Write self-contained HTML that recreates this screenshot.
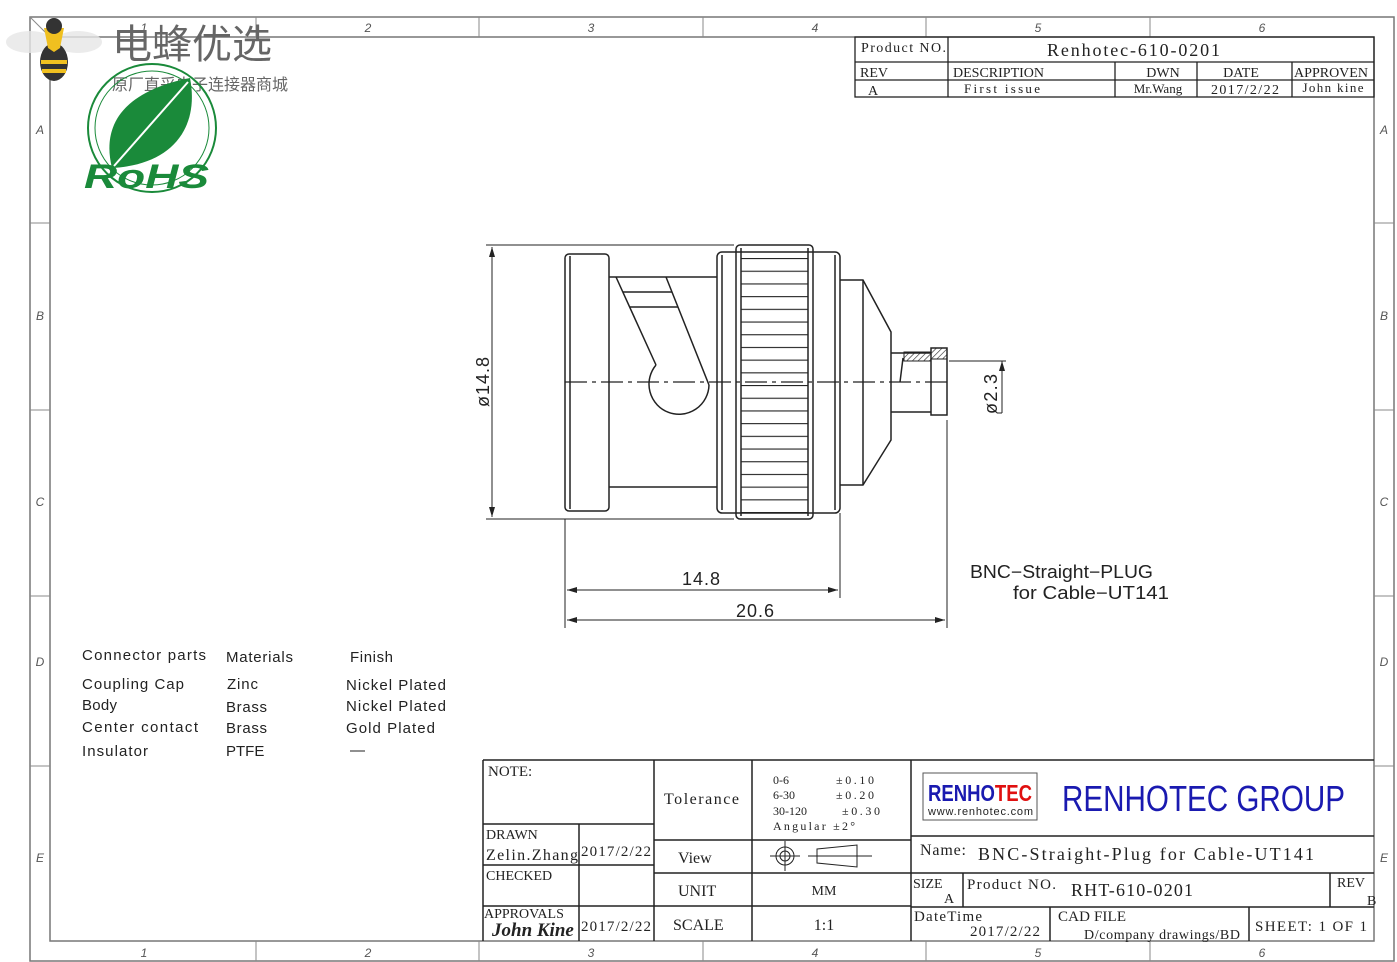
<!DOCTYPE html>
<html><head><meta charset="utf-8"><style>
html,body{margin:0;padding:0;background:#fff}
svg{display:block}
.m{font-family:"Liberation Serif","Noto Serif CJK SC",serif;fill:#222}
.s{font-family:"Liberation Sans","Noto Sans CJK SC",sans-serif;fill:#222}
.z{font-family:"Liberation Sans",sans-serif;fill:#555;font-size:12px;font-style:italic}
</style></head><body>
<svg width="1397" height="962" viewBox="0 0 1397 962" xmlns="http://www.w3.org/2000/svg">
<defs>
<pattern id="kn" x="0" y="258" width="10" height="12.7" patternUnits="userSpaceOnUse">
<line x1="0" y1="0.5" x2="10" y2="0.5" stroke="#222" stroke-width="1.2"/>
</pattern>
<pattern id="hatch" width="4" height="4" patternUnits="userSpaceOnUse" patternTransform="rotate(45)">
<line x1="0" y1="0" x2="0" y2="4" stroke="#222" stroke-width="1.2"/>
</pattern>
</defs>
<g fill="none" stroke="#777" stroke-width="1.5">
<rect x="30" y="17" width="1364" height="944"/>
<rect x="50" y="37" width="1324" height="904"/>
</g>
<g stroke="#888" stroke-width="1">
<line x1="256" y1="17" x2="256" y2="37"/><line x1="479" y1="17" x2="479" y2="37"/><line x1="703" y1="17" x2="703" y2="37"/><line x1="926" y1="17" x2="926" y2="37"/><line x1="1150" y1="17" x2="1150" y2="37"/>
<line x1="256" y1="941" x2="256" y2="961"/><line x1="479" y1="941" x2="479" y2="961"/><line x1="703" y1="941" x2="703" y2="961"/><line x1="926" y1="941" x2="926" y2="961"/><line x1="1150" y1="941" x2="1150" y2="961"/>
<line x1="30" y1="223" x2="50" y2="223"/><line x1="30" y1="410" x2="50" y2="410"/><line x1="30" y1="596" x2="50" y2="596"/><line x1="30" y1="766" x2="50" y2="766"/>
<line x1="1374" y1="223" x2="1394" y2="223"/><line x1="1374" y1="410" x2="1394" y2="410"/><line x1="1374" y1="596" x2="1394" y2="596"/><line x1="1374" y1="766" x2="1394" y2="766"/>
<line x1="30" y1="17" x2="50" y2="37"/>
</g>
<g class="z" text-anchor="middle">
<text x="144" y="32">1</text><text x="368" y="32">2</text><text x="591" y="32">3</text><text x="815" y="32">4</text><text x="1038" y="32">5</text><text x="1262" y="32">6</text>
<text x="144" y="957">1</text><text x="368" y="957">2</text><text x="591" y="957">3</text><text x="815" y="957">4</text><text x="1038" y="957">5</text><text x="1262" y="957">6</text>
<text x="40" y="134">A</text><text x="40" y="320">B</text><text x="40" y="506">C</text><text x="40" y="666">D</text><text x="40" y="862">E</text>
<text x="1384" y="134">A</text><text x="1384" y="320">B</text><text x="1384" y="506">C</text><text x="1384" y="666">D</text><text x="1384" y="862">E</text>
</g>

<g>
<ellipse cx="30" cy="42" rx="24" ry="11" fill="#e6e6e6" opacity="0.8"/>
<ellipse cx="78" cy="42" rx="24" ry="11" fill="#e6e6e6" opacity="0.8"/>
<ellipse cx="54" cy="62" rx="14" ry="19" fill="#333"/>
<rect x="41" y="60" width="26" height="4" fill="#f0c020"/><rect x="42" y="69" width="24" height="4" fill="#f0c020"/>
<path d="M44 28 L64 28 L60 48 L54 52 L48 48 Z" fill="#f0c020"/>
<circle cx="54" cy="26" r="8" fill="#333"/>
</g>
<text x="112" y="58" font-family="'Noto Sans CJK SC',sans-serif" font-size="40" fill="#666">电蜂优选</text>
<text x="112" y="90" font-family="'Noto Sans CJK SC',sans-serif" font-size="16" fill="#666">原厂直采电子连接器商城</text>
<g fill="none" stroke="#1a8a3a">
<circle cx="152" cy="128" r="64" stroke-width="2"/>
<circle cx="152" cy="128" r="57" stroke-width="1"/>
</g>
<path d="M112 168 C100 120 130 90 190 78 C200 130 170 165 112 168 Z" fill="#1a8a3a"/>
<path d="M114 166 L188 82" stroke="#fff" stroke-width="2"/>
<text x="84" y="188" font-family="'Liberation Sans',sans-serif" font-weight="bold" font-style="italic" font-size="34" fill="#1a8a3a" textLength="125" lengthAdjust="spacingAndGlyphs">RoHS</text>

<g fill="none" stroke="#222" stroke-width="1.5">
<rect x="565" y="254" width="44" height="257" rx="4"/>
<line x1="570" y1="256" x2="570" y2="509"/>
<line x1="609" y1="277" x2="717" y2="277"/><line x1="609" y1="487" x2="717" y2="487"/>
<line x1="616" y1="277" x2="656" y2="365"/><line x1="666" y1="277" x2="709" y2="385"/>
<line x1="623" y1="292" x2="672" y2="292"/><line x1="630" y1="307" x2="678" y2="307"/>
<path d="M656 365 A30 30 0 1 0 709 385"/>
<rect x="717" y="252" width="123" height="261" rx="5"/>
<line x1="722" y1="255" x2="722" y2="510"/><line x1="835" y1="255" x2="835" y2="510"/>
<rect x="736" y="245" width="77" height="274" rx="4"/>
<line x1="741" y1="248" x2="741" y2="516"/><line x1="808" y1="248" x2="808" y2="516"/>
<polyline points="840,280 863,280 891,332 891,440 863,485 840,485"/>
<line x1="863" y1="280" x2="863" y2="485"/>
<polyline points="891,353 931,353"/><polyline points="891,412 931,412"/>
<rect x="931" y="348" width="16" height="67"/>
<line x1="903" y1="358" x2="900" y2="382"/>
</g>
<rect x="904" y="352" width="27" height="9" fill="url(#hatch)" stroke="#222"/>
<rect x="931" y="348" width="16" height="11" fill="url(#hatch)" stroke="#222"/>
<rect x="741" y="248" width="67" height="268" fill="url(#kn)"/>
<line x1="565" y1="382" x2="947" y2="382" stroke="#222" stroke-width="1.2" stroke-dasharray="22,5,4,5"/>
<g stroke="#222" stroke-width="1" fill="none">
<line x1="486" y1="245" x2="734" y2="245"/><line x1="486" y1="519" x2="734" y2="519"/>
<line x1="492" y1="247" x2="492" y2="517"/>
<line x1="565" y1="519" x2="565" y2="628"/><line x1="840" y1="513" x2="840" y2="598"/><line x1="947" y1="420" x2="947" y2="628"/>
<line x1="567" y1="590" x2="838" y2="590"/><line x1="567" y1="620" x2="945" y2="620"/>
<line x1="949" y1="361" x2="1006" y2="361"/><line x1="1002" y1="361" x2="1002" y2="413"/><line x1="997" y1="413" x2="1002" y2="413"/>
</g>
<g fill="#222">
<path d="M492 247 l-3 10 h6z"/><path d="M492 517 l-3 -10 h6z"/>
<path d="M567 590 l10 -3 v6z"/><path d="M838 590 l-10 -3 v6z"/>
<path d="M567 620 l10 -3 v6z"/><path d="M945 620 l-10 -3 v6z"/>
<path d="M1002 361 l-3 10 h6z"/>
</g>
<text class="s" font-size="18" transform="translate(489,382) rotate(-90)" text-anchor="middle" textLength="50">ø14.8</text>
<text class="s" font-size="18" transform="translate(997,394) rotate(-90)" text-anchor="middle" textLength="40">ø2.3</text>
<text class="s" font-size="18" x="701" y="585" text-anchor="middle" textLength="38">14.8</text>
<text class="s" font-size="18" x="755" y="617" text-anchor="middle" textLength="38">20.6</text>
<text class="s" font-size="18" x="970" y="578" textLength="183" lengthAdjust="spacingAndGlyphs">BNC−Straight−PLUG</text>
<text class="s" font-size="18" x="1013" y="599" textLength="156" lengthAdjust="spacingAndGlyphs">for  Cable−UT141</text>

<g class="s" font-size="15">
<text x="82" y="660" textLength="124">Connector  parts</text><text x="226" y="662" textLength="67">Materials</text><text x="350" y="662" textLength="43">Finish</text>
<text x="82" y="689" textLength="102">Coupling  Cap</text><text x="227" y="689" textLength="31">Zinc</text><text x="346" y="690" textLength="100">Nickel  Plated</text>
<text x="82" y="710" textLength="35">Body</text><text x="226" y="712" textLength="41">Brass</text><text x="346" y="711" textLength="100">Nickel  Plated</text>
<text x="82" y="732" textLength="116">Center  contact</text><text x="226" y="733" textLength="41">Brass</text><text x="346" y="733" textLength="89">Gold  Plated</text>
<text x="82" y="756" textLength="66">Insulator</text><text x="226" y="756">PTFE</text><text x="350" y="755">—</text>
</g>

<g stroke="#222" stroke-width="1.3" fill="none">
<rect x="855" y="37" width="519" height="60"/>
<line x1="855" y1="62" x2="1374" y2="62"/><line x1="855" y1="80" x2="1374" y2="80"/>
<line x1="948" y1="37" x2="948" y2="97"/><line x1="1115" y1="62" x2="1115" y2="97"/><line x1="1197" y1="62" x2="1197" y2="97"/><line x1="1292" y1="62" x2="1292" y2="97"/>
</g>
<g class="m" font-size="14">
<text x="861" y="52" textLength="85">Product NO.</text>
<text x="1047" y="56" font-size="18" textLength="173">Renhotec-610-0201</text>
<text x="860" y="77">REV</text><text x="953" y="77">DESCRIPTION</text>
<text x="1163" y="77" text-anchor="middle">DWN</text><text x="1241" y="77" text-anchor="middle">DATE</text><text x="1331" y="77" text-anchor="middle">APPROVEN</text>
<text x="868" y="95">A</text><text x="1002" y="93" font-size="13" text-anchor="middle" textLength="76">First issue</text>
<text x="1158" y="93" font-size="13" text-anchor="middle">Mr.Wang</text><text x="1245" y="94" text-anchor="middle" textLength="68">2017/2/22</text><text x="1333" y="92" font-size="13" text-anchor="middle" textLength="61">John kine</text>
</g>

<g stroke="#222" stroke-width="1.5" fill="none">
<line x1="483" y1="760" x2="1374" y2="760"/>
<line x1="483" y1="760" x2="483" y2="941"/>
<line x1="483" y1="824" x2="654" y2="824"/><line x1="483" y1="865" x2="654" y2="865"/><line x1="483" y1="906" x2="911" y2="906"/>
<line x1="579" y1="824" x2="579" y2="941"/><line x1="654" y1="760" x2="654" y2="941"/><line x1="752" y1="760" x2="752" y2="941"/><line x1="911" y1="760" x2="911" y2="941"/>
<line x1="654" y1="840" x2="911" y2="840"/><line x1="654" y1="873" x2="911" y2="873"/>
<line x1="911" y1="836" x2="1374" y2="836"/><line x1="911" y1="873" x2="1374" y2="873"/><line x1="911" y1="907" x2="1374" y2="907"/>
<line x1="963" y1="873" x2="963" y2="907"/><line x1="1330" y1="873" x2="1330" y2="907"/>
<line x1="1050" y1="907" x2="1050" y2="941"/><line x1="1249" y1="907" x2="1249" y2="941"/>
</g>
<g class="m" font-size="15">
<text x="488" y="776">NOTE:</text>
<text x="664" y="804" font-size="16" textLength="75">Tolerance</text>
<text x="773" y="784" font-size="12">0-6</text><text x="836" y="784" font-size="12" textLength="38">±0.10</text>
<text x="773" y="799" font-size="12">6-30</text><text x="836" y="799" font-size="12" textLength="38">±0.20</text>
<text x="773" y="815" font-size="12">30-120</text><text x="842" y="815" font-size="12" textLength="38">±0.30</text>
<text x="773" y="830" font-size="12" textLength="82">Angular   ±2°</text>
<text x="486" y="839" font-size="14">DRAWN</text>
<text x="486" y="860" font-size="16" textLength="92">Zelin.Zhang</text>
<text x="581" y="856" textLength="70">2017/2/22</text>
<text x="678" y="863" font-size="16">View</text>
<text x="486" y="880" font-size="14">CHECKED</text>
<text x="678" y="896" font-size="16">UNIT</text>
<text x="824" y="895" text-anchor="middle" font-size="14">MM</text>
<text x="484" y="918" font-size="14">APPROVALS</text>
<text x="492" y="936" font-size="19" font-style="italic" font-weight="bold">John Kine</text>
<text x="581" y="931" textLength="70">2017/2/22</text>
<text x="673" y="930" font-size="16">SCALE</text>
<text x="824" y="930" text-anchor="middle" font-size="16">1:1</text>
</g>
<g fill="none" stroke="#222" stroke-width="1">
<circle cx="785" cy="856" r="9"/><circle cx="785" cy="856" r="5"/>
<line x1="770" y1="856" x2="800" y2="856"/><line x1="785" y1="841" x2="785" y2="871"/>
<polygon points="817,849 857,845 857,867 817,863"/><line x1="808" y1="856" x2="872" y2="856"/>
</g>
<rect x="923" y="773" width="114" height="47" fill="#fff" stroke="#555"/>
<text x="928" y="801" font-family="'Liberation Sans',sans-serif" font-weight="bold" font-size="23" fill="#1a1ab0" textLength="104" lengthAdjust="spacingAndGlyphs">RENHO<tspan fill="#e01010">TEC</tspan></text>
<text x="928" y="815" font-family="'Liberation Sans',sans-serif" font-size="11" fill="#222" textLength="105">www.renhotec.com</text>
<text x="1062" y="811" font-family="'Liberation Sans',sans-serif" font-size="36" fill="#1a1ab0" textLength="283" lengthAdjust="spacingAndGlyphs">RENHOTEC  GROUP</text>
<g class="m">
<text x="920" y="855" font-size="16" textLength="46">Name:</text>
<text x="978" y="860" font-size="18" textLength="336">BNC-Straight-Plug for Cable-UT141</text>
<text x="913" y="888" font-size="14">SIZE</text><text x="944" y="903" font-size="14">A</text>
<text x="967" y="889" font-size="15" textLength="89">Product NO.</text>
<text x="1071" y="896" font-size="18" textLength="122">RHT-610-0201</text>
<text x="1337" y="887" font-size="14">REV</text><text x="1367" y="905" font-size="14">B</text>
<text x="914" y="921" font-size="15" textLength="68">DateTime</text><text x="970" y="936" font-size="15" textLength="70">2017/2/22</text>
<text x="1058" y="921" font-size="15" textLength="68">CAD FILE</text><text x="1084" y="939" font-size="14" textLength="156">D/company drawings/BD</text>
<text x="1255" y="931" font-size="15" textLength="112">SHEET:  1  OF  1</text>
</g>
</svg>
</body></html>
